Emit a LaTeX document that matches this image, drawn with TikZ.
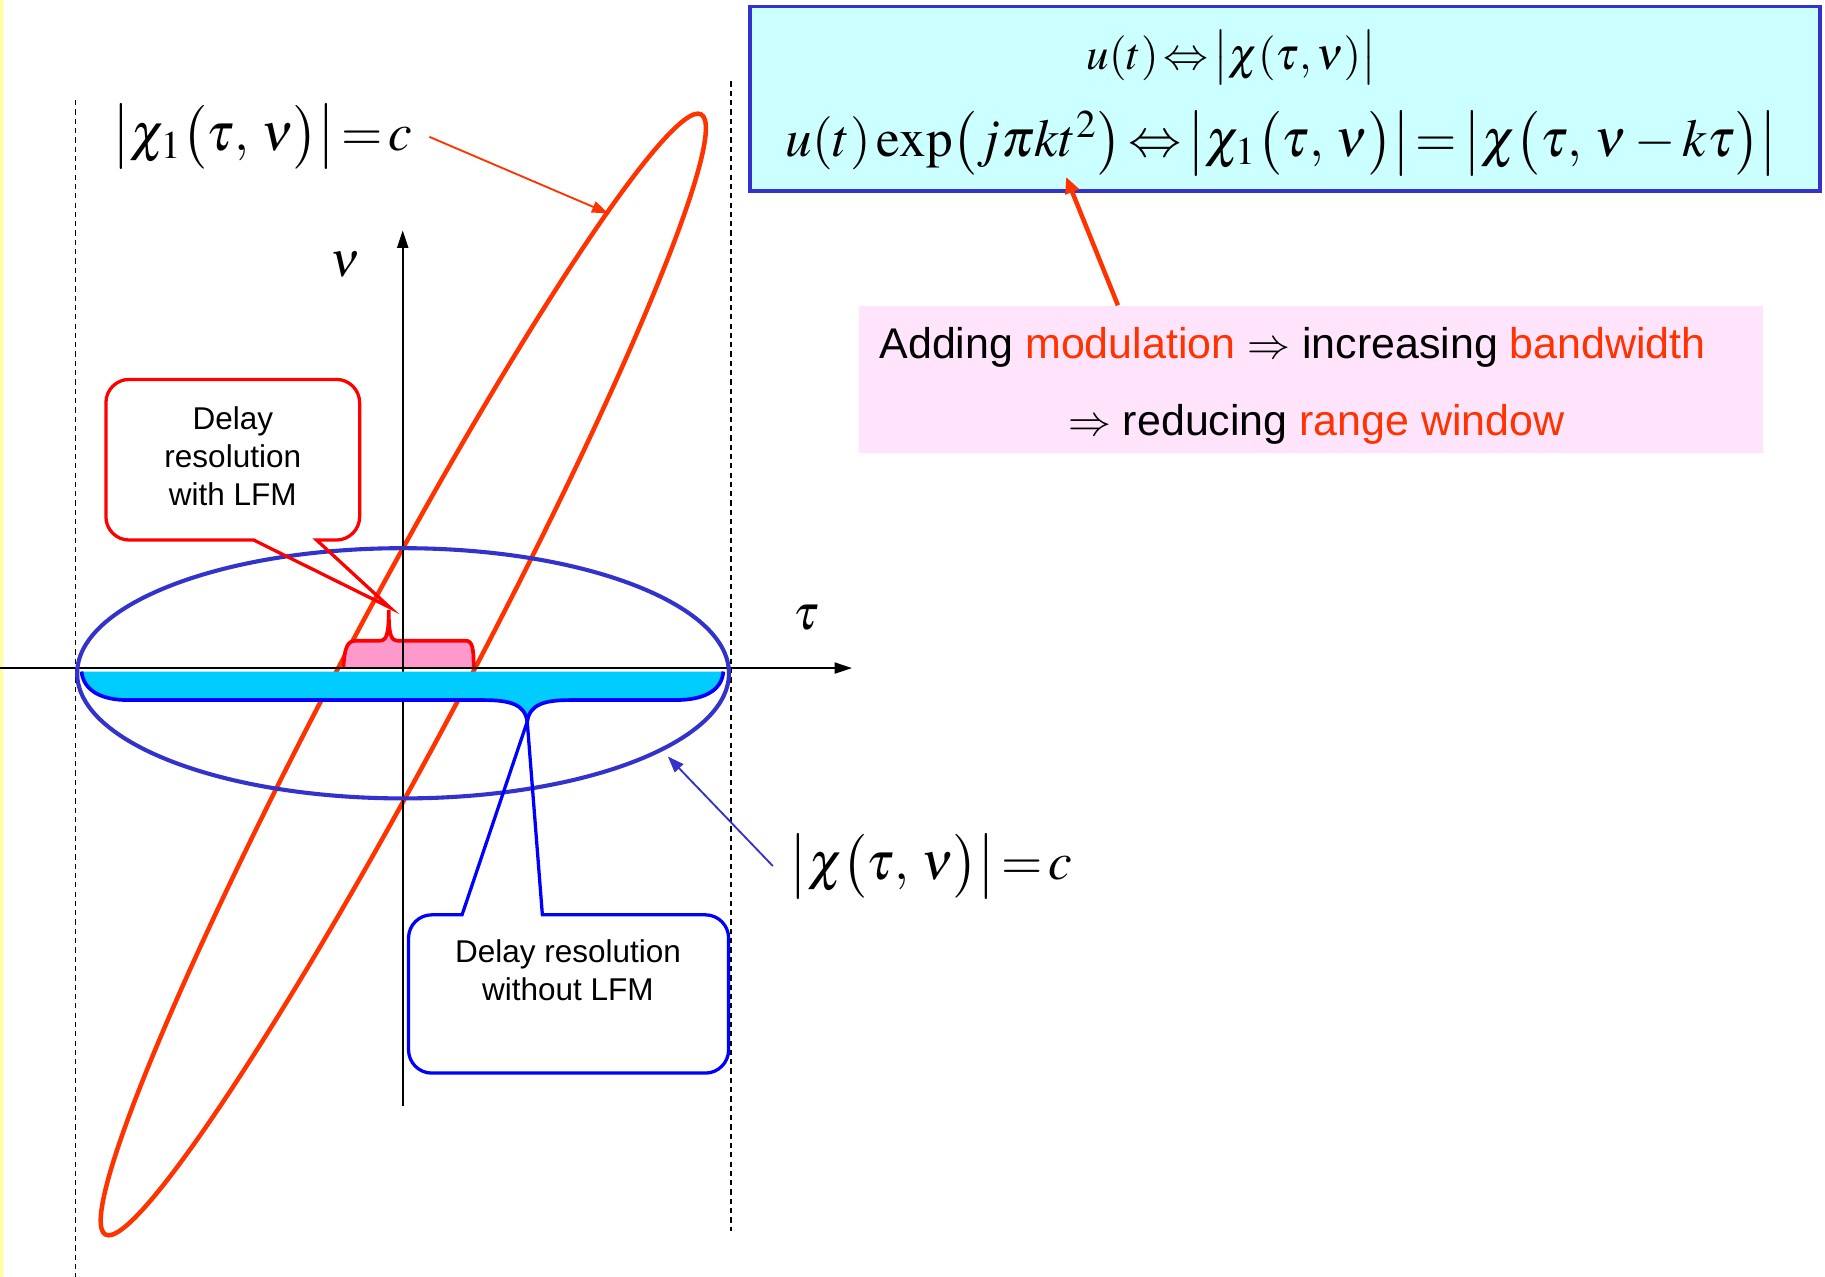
\documentclass[tikz,border=0pt]{standalone}
\usepackage{mathptmx}
\usepackage[no-math]{fontspec}
\setsansfont{Liberation Sans}
\usetikzlibrary{arrows.meta}

\definecolor{lfmred}{RGB}{255,51,0}
\definecolor{ambblue}{RGB}{51,51,204}
\definecolor{boxcyan}{RGB}{204,255,255}
\definecolor{boxpink}{RGB}{255,228,252}
\definecolor{bracepink}{RGB}{255,153,204}
\definecolor{bracecyan}{RGB}{0,204,255}
\definecolor{edgeyellow}{RGB}{255,255,153}

\begin{document}
\begin{tikzpicture}[
  x=0.1mm, y=-0.1mm,
  guide/.style={line width=0.4pt,dash pattern=on 0.45mm off 0.35mm},
  axis/.style={line width=0.5pt,-{Triangle[length=1.5mm,width=0.95mm]}},
  biglab/.style={inner sep=1.4mm,font=\fontsize{13}{15}\selectfont},
  axislab/.style={inner sep=0pt,font=\fontsize{12}{14}\selectfont},
  calltext/.style={align=center,font=\sffamily\fontsize{7.7}{9.3}\selectfont},
  modtext/.style={inner sep=0pt,font=\sffamily\fontsize{10.5}{12}\selectfont},
  thinarrow/.style={line width=0.45pt,-{Triangle[length=1.4mm,width=1mm]}},
  callout/.style={line width=0.8pt,rounded corners=2mm}
]
  \path[use as bounding box,fill=white] (0,0) rectangle (1568,1097);
  \fill[edgeyellow] (0,0) rectangle (2.6,1097);

  % dashed limits of the delay window
  \draw[guide] (65,86) -- (65,1097);
  \draw[guide] (628,70) -- (628,1058);

  % ambiguity contour with LFM
  \draw[lfmred,line width=1.1pt,rotate around={62:(346.5,579.5)}]
    (346.5,579.5) ellipse [x radius=545,y radius=52];

  % delay resolution with LFM
  \fill[bracepink] (295,574) .. controls (296,557) and (298,550.5) .. (306,550.5)
    -- (326,550.5) .. controls (332,550.5) and (334,546) .. (334,524)
    .. controls (334,546) and (336,550.5) .. (342,550.5) -- (400,550.5)
    .. controls (406,550.5) and (407,557) .. (407,574) -- cycle;
  \draw[red,line width=0.9pt] (295,574) .. controls (296,557) and (298,550.5) .. (306,550.5)
    -- (326,550.5) .. controls (332,550.5) and (334,546) .. (334,524)
    .. controls (334,546) and (336,550.5) .. (342,550.5) -- (400,550.5)
    .. controls (406,550.5) and (407,557) .. (407,574);

  % axes
  \coordinate (tstart) at (0,574);
  \coordinate (tend) at (732,574);
  \coordinate (nstart) at (346,950);
  \coordinate (nend) at (346,198);
  \draw[axis] (tstart) -- (tend);
  \draw[axis] (nstart) -- (nend);
  \node[axislab,anchor=base] (nulab) at (297,238) {$\nu$};
  \node[axislab,anchor=base] (taulab) at (693,541) {$\tau$};

  % delay resolution without LFM
  \fill[bracecyan] (70,577) .. controls (72,594) and (88,601.5) .. (110,601.5)
    -- (415,601.5) .. controls (438,601.5) and (451,605) .. (453,620)
    .. controls (455,605) and (468,601.5) .. (490,601.5) -- (580,601.5)
    .. controls (604,601.5) and (620,594) .. (621.5,577) -- cycle;
  \draw[blue,line width=0.9pt] (70,577) .. controls (72,594) and (88,601.5) .. (110,601.5)
    -- (415,601.5) .. controls (438,601.5) and (451,605) .. (453,620)
    .. controls (455,605) and (468,601.5) .. (490,601.5) -- (580,601.5)
    .. controls (604,601.5) and (620,594) .. (621.5,577);

  % ambiguity contour without LFM
  \draw[ambblue,line width=1pt] (346.3,578.5) ellipse [x radius=280,y radius=107.5];

  % callouts
  \draw[callout,red] (272,464) -- (309,464) -- (309,326) -- (91,326) -- (91,464)
    [sharp corners] -- (218,464) -- (335,522) -- cycle;
  \node[calltext] (withlfm) at (200,392) {Delay\\resolution\\with LFM};
  \draw[callout,blue] (466,786) -- (626,786) -- (626,922) -- (351,922) -- (351,786)
    [sharp corners] -- (397,786) -- (453,620) -- cycle;
  \node[calltext] (nolfm) at (488,834) {Delay resolution\\without LFM};

  % contour labels
  \node[biglab,anchor=base] (chi1lab) at (225.5,129)
    {$\bigl|\chi_1\bigl(\tau,\,\nu\bigr)\bigr|\!=\!c$};
  \coordinate (redhit) at (522.6,183.3);
  \draw[thinarrow,lfmred] (chi1lab.east) -- (redhit);
  \node[biglab,anchor=base] (chilab) at (800,755.5)
    {$\bigl|\chi\bigl(\tau,\,\nu\bigr)\bigr|\!=\!c$};
  \coordinate (bluehit) at (573.8,650);
  \draw[thinarrow,ambblue] (chilab.west) -- (bluehit);

  % formulas
  \node[draw=ambblue,line width=0.9pt,fill=boxcyan,minimum width=91.9mm,
    minimum height=15.85mm,inner sep=0pt] (formbox) at (1104,84.75) {};
  \node[inner sep=0pt,anchor=base,font=\fontsize{11}{13}\selectfont] (form1) at (1058,59.5)
    {$u(t)\!\Leftrightarrow\!\bigl|\chi(\tau,\nu)\bigr|$};
  \node[inner sep=0pt,anchor=base,font=\fontsize{13}{15}\selectfont] (form2) at (1101,134.6)
    {$u(t)\exp\bigl(j\pi k t^{2}\bigr)\!\Leftrightarrow\!\bigl|\chi_1\bigl(\tau,\,\nu\bigr)\bigr|
      \!=\!\bigl|\chi\bigl(\tau,\,\nu-k\tau\bigr)\bigr|$};

  % trade-off note
  \node[fill=boxpink,minimum width=77.7mm,minimum height=12.6mm,inner sep=0pt]
    (modbox) at (1126.5,326) {};
  \node[modtext,anchor=base west] (modline1) at (755,308)
    {Adding \textcolor{lfmred}{modulation} $\Rightarrow$ increasing \textcolor{lfmred}{bandwidth}};
  \node[modtext,anchor=base] (modline2) at (1131,374)
    {$\Rightarrow$ reducing \textcolor{lfmred}{range window}};
  \coordinate (exphit) at (916,152);
  \draw[lfmred,line width=1.1pt,-{Triangle[length=1.4mm,width=1.2mm]}]
    ([xshift=-16.6mm]modbox.north) -- (exphit);
\end{tikzpicture}
\end{document}
